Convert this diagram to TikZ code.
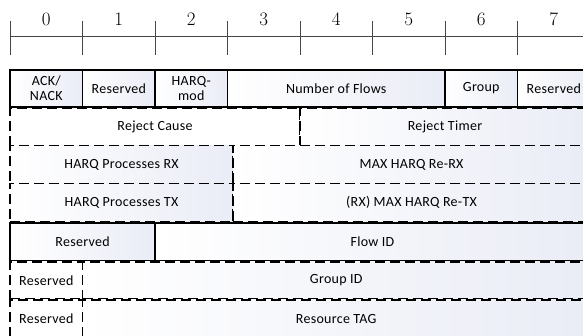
\documentclass[tikz,border=0pt]{standalone}
\usepackage{fontspec}
\newfontfamily\calfont[LetterSpace=2]{Carlito}
\definecolor{shadeblue}{RGB}{234,236,246}
\definecolor{rulegray}{RGB}{70,70,70}
\begin{document}
\begin{tikzpicture}[x=1pt,y=-1pt,
  cell/.style={draw=black, line width=1.6pt, left color=white, right color=shadeblue,
    inner sep=0pt, outer sep=0pt, align=center,
    font=\calfont\fontsize{14}{15}\selectfont},
  wcell/.style={cell, left color=white, right color=white},
  dcell/.style={cell, dash pattern=on 10pt off 5pt},
  dwcell/.style={dcell, left color=white, right color=white},
  digit/.style={font=\fontsize{19}{21}\selectfont, inner sep=0pt},
  ruler/.style={draw=rulegray, line width=0.8pt}]
\clip (0,0) rectangle (583,336);
\fill[white] (0,0) rectangle (583,336);
% ruler
\coordinate (rl) at (10,36.5);
\coordinate (rr) at (590,36.5);
\draw[ruler] (rl) -- (rr);
\foreach \i in {0,...,7}{
  \coordinate (t\i a) at ({10+72.5*\i},21);
  \coordinate (t\i b) at ({10+72.5*\i},55);
  \draw[ruler] (t\i a) -- (t\i b);
  \node[digit] (d\i) at ({46.25+72.5*\i},19) {\i};
}
% row 1
\node[cell, minimum width=72.5pt, minimum height=37pt] (c1a) at (46.25,88.5) {ACK/\\NACK};
\node[cell, minimum width=72.5pt, minimum height=37pt] (c1b) at (118.75,88.5) {Reserved};
\node[cell, minimum width=72.5pt, minimum height=37pt] (c1c) at (191.25,88.5) {HARQ-\\mod};
\node[cell, minimum width=217.5pt, minimum height=37pt] (c1d) at (336.25,88.5) {Number of Flows};
\node[cell, minimum width=72.5pt, minimum height=37pt] (c1e) at (481.25,88.5) {Group};
\node[cell, minimum width=72.5pt, minimum height=37pt] (c1f) at (553.75,88.5) {Reserved};
% row 2
\node[dwcell, minimum width=290pt, minimum height=37pt] (c2a) at (155,127) {Reject Cause};
\node[dcell, minimum width=290pt, minimum height=37pt] (c2b) at (445,127) {Reject Timer};
% row 3
\node[dcell, minimum width=223pt, minimum height=38pt] (c3a) at (121.5,164.5) {HARQ Processes RX};
\node[dcell, minimum width=357pt, minimum height=38pt] (c3b) at (411.5,164.5) {MAX HARQ Re-RX};
% row 4
\node[dcell, minimum width=223pt, minimum height=38pt] (c4a) at (121.5,202.5) {HARQ Processes TX};
\node[dcell, minimum width=357pt, minimum height=38pt] (c4b) at (411.5,202.5) {(RX) MAX HARQ Re-TX};
% row 5
\node[cell, minimum width=145pt, minimum height=38pt] (c5a) at (82.5,242) {Reserved};
\node[cell, minimum width=435pt, minimum height=38pt] (c5b) at (372.5,242) {Flow ID};
% row 6
\node[dwcell, minimum width=72.5pt, minimum height=37pt] (c6a) at (46.25,280.5) {Reserved};
\node[dcell, minimum width=507.5pt, minimum height=37pt] (c6b) at (336.25,280.5) {Group ID};
% row 7
\node[dwcell, minimum width=72.5pt, minimum height=38pt] (c7a) at (46.25,319) {Reserved};
\node[dcell, minimum width=507.5pt, minimum height=38pt] (c7b) at (336.25,319) {Resource TAG};
\end{tikzpicture}
\end{document}
